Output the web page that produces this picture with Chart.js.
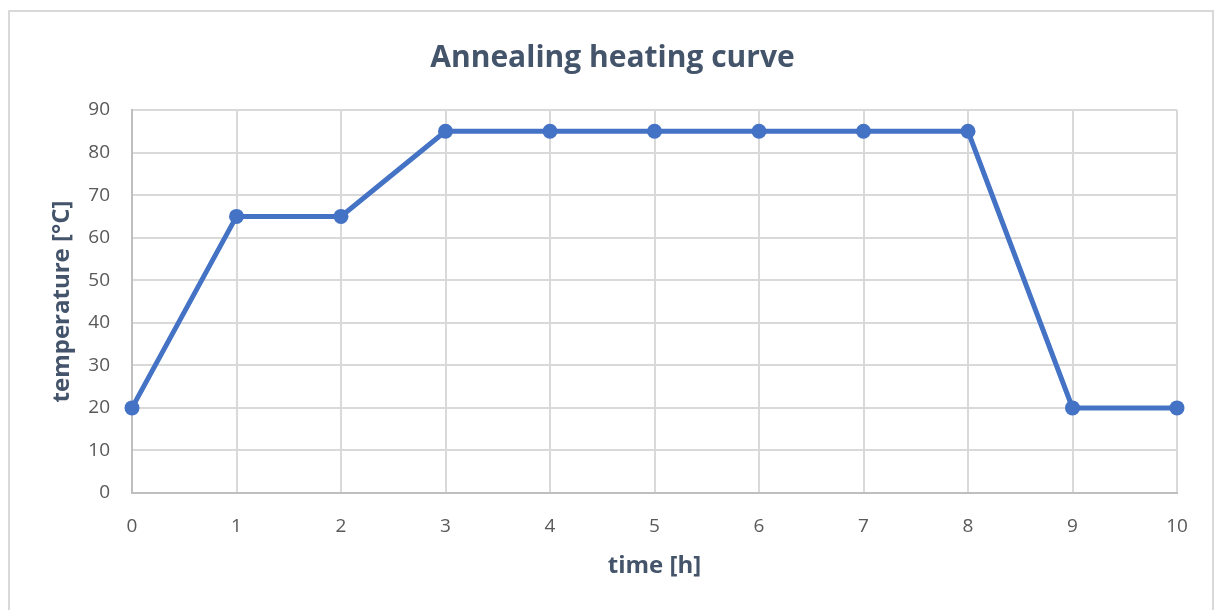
<!DOCTYPE html>
<html lang="en">
<head>
    <meta charset="UTF-8">
    <title>Annealing heating curve</title>
    <style>
        body {
            margin: 0;
            background: #ffffff;
            font-family: "Open Sans", Arial, sans-serif;
        }

        .frame {
            position: absolute;
            left: 8px;
            top: 10px;
            width: 1202px;
            height: 610px;
            border: 2px solid #d9d9d9;
        }

        .chart-box {
            position: absolute;
            left: 0;
            top: 0;
            width: 1216px;
            height: 610px;
        }
    </style>
</head>
<body>
    <div class="frame"></div>
    <div class="chart-box">
        <canvas id="curve"></canvas>
    </div>

    <script src="https://cdn.jsdelivr.net/npm/chart.js"></script>
    <script>
        // data
        const timeHours = [0, 1, 2, 3, 4, 5, 6, 7, 8, 9, 10];
        const temperatures = [20, 65, 65, 85, 85, 85, 85, 85, 85, 20, 20];
        const yTicks = [0, 10, 20, 30, 40, 50, 60, 70, 80, 90];

        const points = timeHours.map((t, i) => ({ x: t, y: temperatures[i] }));

        const blue = "#4472c4";
        const tickColor = "#595959";
        const titleColor = "#44546a";

        new Chart(document.getElementById("curve"), {
            type: "line",
            data: {
                datasets: [{
                    label: "temperature",
                    data: points,
                    borderColor: blue,
                    backgroundColor: blue,
                    borderWidth: 5,
                    pointRadius: 7.5,
                    pointHoverRadius: 7.5,
                    pointBackgroundColor: blue,
                    pointBorderWidth: 0,
                    tension: 0,
                    clip: false
                }]
            },
            options: {
                responsive: true,
                maintainAspectRatio: false,
                animation: false,
                layout: {
                    padding: { left: 48, right: 39, top: 40, bottom: 29 }
                },
                plugins: {
                    legend: { display: false },
                    tooltip: { enabled: false },
                    title: {
                        display: true,
                        text: "Annealing heating curve",
                        color: titleColor,
                        font: { family: "Open Sans", size: 30, weight: "bold" },
                        padding: { top: 0, bottom: 34 }
                    }
                },
                scales: {
                    x: {
                        type: "linear",
                        min: 0,
                        max: 10,
                        afterBuildTicks: (scale) => {
                            scale.ticks = timeHours.map(v => ({ value: v }));
                        },
                        afterFit: (scale) => { scale.height = 88; },
                        grid: {
                            color: "#d9d9d9",
                            lineWidth: 2,
                            drawTicks: false
                        },
                        border: { color: "#bfbfbf", width: 2 },
                        ticks: {
                            color: tickColor,
                            padding: 22,
                            maxRotation: 0,
                            font: { family: "Open Sans", size: 19 }
                        },
                        title: {
                            display: true,
                            text: "time [h]",
                            color: titleColor,
                            font: { family: "Open Sans", size: 24, weight: "bold" },
                            padding: { top: 6, bottom: 0 }
                        }
                    },
                    y: {
                        min: 0,
                        max: 90,
                        afterBuildTicks: (scale) => {
                            scale.ticks = yTicks.map(v => ({ value: v }));
                        },
                        afterFit: (scale) => { scale.width = 84; },
                        grid: {
                            color: "#d9d9d9",
                            lineWidth: 2,
                            drawTicks: false
                        },
                        border: { color: "#bfbfbf", width: 2 },
                        ticks: {
                            color: tickColor,
                            padding: 22,
                            font: { family: "Open Sans", size: 19 }
                        },
                        title: {
                            display: true,
                            text: "temperature [°C]",
                            color: titleColor,
                            font: { family: "Open Sans", size: 24, weight: "bold" },
                            padding: { top: 0, bottom: 0 }
                        }
                    }
                }
            }
        });
    </script>
</body>
</html>
